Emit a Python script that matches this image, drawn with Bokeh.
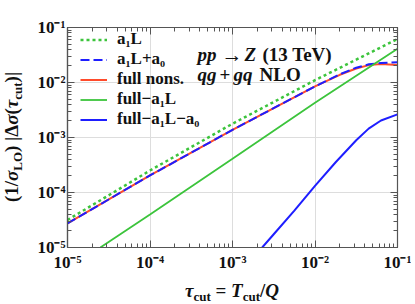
import math
from bokeh.plotting import figure
from bokeh.layouts import row, column
from bokeh.models import (LogAxis, LogTicker, Label, Legend, LegendItem,
                          CustomJSTickFormatter, Range1d, Div)
from bokeh.embed import file_html
from bokeh.resources import INLINE

# ---------------- data ----------------
tau_a1L = [1e-5, 1e-4, 1e-3, 1e-2, 1e-1]
sig_a1L = [3.16e-5, 2.51e-4, 1.78e-3, 1.10e-2, 6.17e-2]

tau_a1L_a0 = [1e-5, 1e-4, 1e-3, 1e-2, 2e-2, 3.16e-2, 4.5e-2, 6.3e-2, 1e-1]
sig_a1L_a0 = [2.75e-5, 2.04e-4, 1.38e-3, 8.5e-3, 1.41e-2, 1.86e-2, 2.14e-2, 2.26e-2, 2.34e-2]

tau_full = [1e-5, 1e-4, 1e-3, 1e-2, 2e-2, 3.16e-2, 4.5e-2, 6.3e-2, 1e-1]
sig_full = [2.75e-5, 2.04e-4, 1.38e-3, 8.5e-3, 1.38e-2, 1.80e-2, 2.07e-2, 2.16e-2, 2.09e-2]

tau_full_m_a1L = [2.5e-5, 1e-4, 1e-3, 1e-2, 1e-1]
sig_full_m_a1L = [1.0e-5, 4.0e-5, 4.1e-4, 4.3e-3, 4.1e-2]

tau_full_m_a1L_a0 = [2.29e-3, 3.16e-3, 5.62e-3, 1e-2, 1.78e-2, 3.16e-2, 4.47e-2, 6.31e-2, 1e-1]
sig_full_m_a1L_a0 = [1.0e-5, 1.74e-5, 4.68e-5, 1.32e-4, 3.55e-4, 8.9e-4, 1.45e-3, 2.04e-3, 2.63e-3]

legend_labels = ["a₁L", "a₁L+a₀", "full nons.", "full−a₁L", "full−a₁L−a₀"]

x_lo, x_hi = 1e-5, 1e-1
y_lo, y_hi = 1e-5, 1e-1

# ---------------- styling ----------------
FONT = "Liberation Serif"
GREEN = "#3cc43c"
BLUE = "#1e1eff"
RED = "#ff4b2b"
AX = "#555555"

YLAB_W = 24
FL, FT, FW, FH = 67, 27, 330, 220     # frame placement in the picture
FR, FB = 14, 30
FIG_W = FL - YLAB_W + FW + FR
FIG_H = FT + FH + FB
XLAB_H = 25

p = figure(x_axis_type="log", y_axis_type="log",
           x_range=Range1d(x_lo, x_hi), y_range=Range1d(y_lo, y_hi),
           width=FIG_W, height=FIG_H,
           min_border_left=FL - YLAB_W, min_border_right=FR,
           min_border_top=FT, min_border_bottom=FB,
           output_backend="svg", toolbar_location=None,
           background_fill_color="white", border_fill_color="white",
           outline_line_color=AX, outline_line_width=1.2)

fmt = CustomJSTickFormatter(code="""
const sup = {"-":"\u207b","0":"\u2070","1":"\u00b9","2":"\u00b2","3":"\u00b3",
             "4":"\u2074","5":"\u2075","6":"\u2076","7":"\u2077","8":"\u2078","9":"\u2079"};
const e = Math.round(Math.log10(tick));
return "10" + String(e).split("").map(c => sup[c]).join("");
""")
blank = CustomJSTickFormatter(code="return '';")

for ax in list(p.xaxis) + list(p.yaxis):
    ax.ticker = LogTicker(num_minor_ticks=10)
    ax.formatter = fmt
    ax.major_label_text_font = FONT
    ax.major_label_text_font_style = "bold"
    ax.major_label_text_font_size = "17px"
    ax.major_label_text_color = "#111111"
    ax.major_tick_in = 7
    ax.major_tick_out = 0
    ax.minor_tick_in = 4
    ax.minor_tick_out = 0
    ax.axis_line_color = AX
    ax.major_tick_line_color = AX
    ax.minor_tick_line_color = AX
    ax.axis_line_width = 1.2
p.xaxis.major_label_standoff = 5
p.yaxis.major_label_standoff = 2

for loc in ["above", "right"]:
    ax = LogAxis(ticker=LogTicker(num_minor_ticks=10), formatter=blank)
    ax.major_label_text_font_size = "6px"
    ax.major_label_standoff = 0
    ax.major_tick_in = 7
    ax.major_tick_out = 0
    ax.minor_tick_in = 4
    ax.minor_tick_out = 0
    ax.axis_line_color = AX
    ax.major_tick_line_color = AX
    ax.minor_tick_line_color = AX
    p.add_layout(ax, loc)

p.xgrid.grid_line_color = "#dddddd"
p.ygrid.grid_line_color = "#dddddd"

# ---------------- curves ----------------
r_dot = p.line(tau_a1L, sig_a1L, line_color=GREEN, line_width=2.5, line_dash="3 3")
r_full = p.line(tau_full, sig_full, line_color=RED, line_width=2)
r_dash = p.line(tau_a1L_a0, sig_a1L_a0, line_color=BLUE, line_width=2, line_dash="9 4")
r_g = p.line(tau_full_m_a1L, sig_full_m_a1L, line_color=GREEN, line_width=1.8)
r_b = p.line(tau_full_m_a1L_a0, sig_full_m_a1L_a0, line_color=BLUE, line_width=2)

legend = Legend(items=[LegendItem(label=legend_labels[0], renderers=[r_dot]),
                       LegendItem(label=legend_labels[1], renderers=[r_dash]),
                       LegendItem(label=legend_labels[2], renderers=[r_full]),
                       LegendItem(label=legend_labels[3], renderers=[r_g]),
                       LegendItem(label=legend_labels[4], renderers=[r_b])],
                location=(13, 118), padding=0, margin=0, spacing=0,
                glyph_height=19, glyph_width=27, label_height=19, label_standoff=10,
                border_line_alpha=0, background_fill_alpha=0,
                label_text_font=FONT, label_text_font_size="17px",
                label_text_font_style="bold", label_text_color="#111111")
p.add_layout(legend)

# ---------------- in-frame texts ----------------
def X2x(X):
    return 10 ** (math.log10(x_lo) + (X - FL) / (FW / 4))

def Y2y(Y):
    return 10 ** (math.log10(y_hi) - (Y - FT) / (FH / 4))

def txt(X, Y, s, size=18, style="bold"):
    p.add_layout(Label(x=X2x(X), y=Y2y(Y), text=s,
                       text_font=FONT, text_font_size=f"{size}px",
                       text_font_style=style, text_color="#111111",
                       text_align="left", text_baseline="alphabetic"))

txt(197, 54, "pp", 19, "bold italic")
txt(221, 54, "→", 21)
txt(244, 54, "Z", 19, "bold italic")
txt(262, 54, "(13 TeV)", 19)
txt(197, 74, "qg", 19, "bold italic")
txt(219, 74, "+", 19)
txt(233, 74, "gq", 19, "bold italic")
txt(259, 74, "NLO", 19)

# ---------------- axis titles as real HTML text ----------------
LAB = ("font-family:'Liberation Serif'; font-weight:bold; font-size:19px; "
       "color:#111111; white-space:nowrap;")
SUB = "font-size:13px; vertical-align:-4px; line-height:0;"
ylab_len = 2 * (FT + FH // 2)
ylab = Div(width=YLAB_W, height=ylab_len, margin=0,
           text=(f"<div style=\"{LAB} width:{ylab_len}px; height:24px; line-height:24px; "
                 f"text-align:center; transform-origin:0 0; "
                 f"transform:translate(0px,{ylab_len}px) rotate(-90deg);\">"
                 f"(1/<i>σ</i><span style=\"{SUB}\">LO</span>) "
                 f"|Δ<i>σ</i>(<i>τ</i><span style=\"{SUB}\">cut</span>)|</div>"))

xlab = Div(width=YLAB_W + FIG_W, height=XLAB_H, margin=0,
           text=(f"<div style=\"{LAB} margin-left:{FL}px; width:{FW}px; "
                 f"line-height:20px; margin-top:4px; text-align:center;\">"
                 f"<i>τ</i><span style=\"{SUB}\">cut</span> = "
                 f"<i>T</i><span style=\"{SUB}\">cut</span>/<i>Q</i></div>"))

layout = column(row(ylab, p, spacing=0), xlab, spacing=0)
open("out.html", "w").write(file_html(layout, INLINE))
